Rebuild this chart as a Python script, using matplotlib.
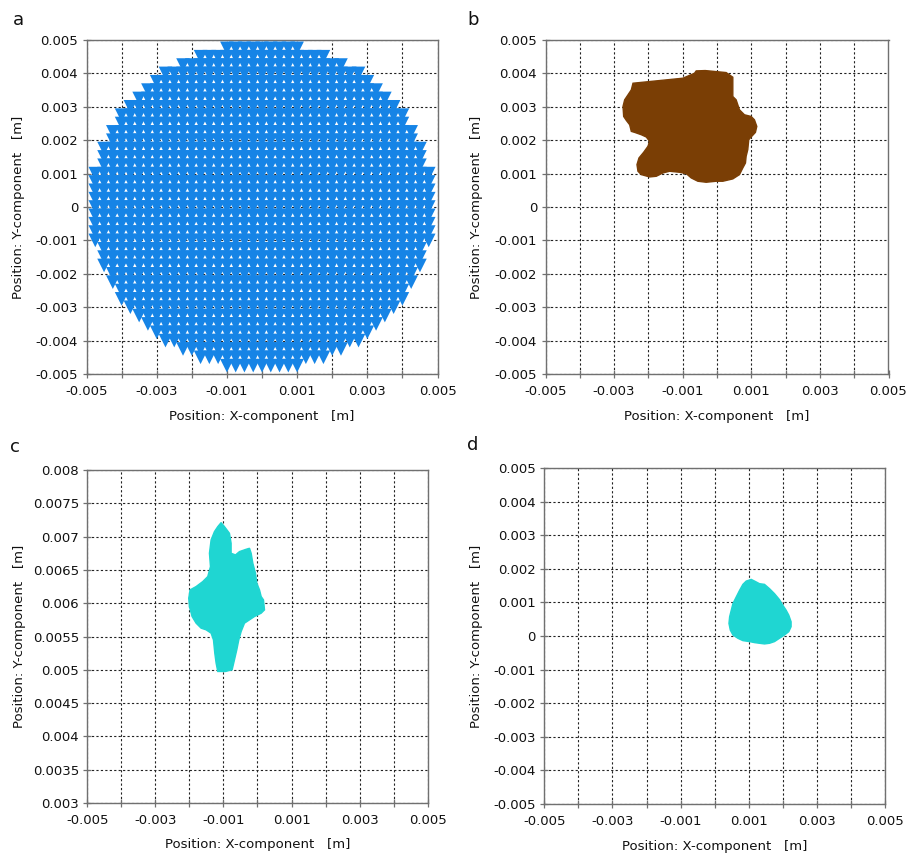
import matplotlib
matplotlib.use("Agg")
import matplotlib.pyplot as plt
import numpy as np

# ---------------- data ----------------
# Panel a: particle injection grid on the circular inlet
inlet_x = [-0.00475, -0.00450, -0.00425, -0.00400, -0.00375, -0.00350, -0.00325,
           -0.00300, -0.00275, -0.00250, -0.00225, -0.00200, -0.00175, -0.00150,
           -0.00125, -0.00100, -0.00075, -0.00050, -0.00025, 0.0, 0.00025, 0.00050,
           0.00075, 0.00100, 0.00125, 0.00150, 0.00175, 0.00200, 0.00225, 0.00250,
           0.00275, 0.00300, 0.00325, 0.00350, 0.00375, 0.00400, 0.00425, 0.00450,
           0.00475]
inlet_y = [-0.00475, -0.00450, -0.00425, -0.00400, -0.00375, -0.00350, -0.00325,
           -0.00300, -0.00275, -0.00250, -0.00225, -0.00200, -0.00175, -0.00150,
           -0.00125, -0.00100, -0.00075, -0.00050, -0.00025, 0.0, 0.00025, 0.00050,
           0.00075, 0.00100, 0.00125, 0.00150, 0.00175, 0.00200, 0.00225, 0.00250,
           0.00275, 0.00300, 0.00325, 0.00350, 0.00375, 0.00400, 0.00425, 0.00450,
           0.00475]
inlet_radius = 0.0049

# Panel b: particle cloud outline
b_x = [-0.002449, -0.001285, -0.000995, -0.000655, -0.000606, -0.000345, 0.000267,
       0.000461, 0.000461, 0.000558, 0.000655, 0.000800, 0.000994, 0.001091,
       0.001160, 0.001120, 0.000994, 0.000926, 0.000897, 0.000849, 0.000830,
       0.000752, 0.000655, 0.000461, 0.000170, -0.000024, -0.000315, -0.000558,
       -0.000752, -0.000897, -0.001091, -0.001382, -0.001576, -0.001770,
       -0.001964, -0.002207, -0.002304, -0.002333, -0.002275, -0.002139,
       -0.002013, -0.001964, -0.002061, -0.002207, -0.002401, -0.002498,
       -0.002546, -0.002643, -0.002721, -0.002740, -0.002692, -0.002595,
       -0.002498]
b_y = [0.003706, 0.003826, 0.003856, 0.004005, 0.004075, 0.004085, 0.004025,
       0.003886, 0.003308, 0.003209, 0.002910, 0.002761, 0.002711, 0.002612,
       0.002413, 0.002234, 0.002095, 0.002015, 0.001716, 0.001517, 0.001318,
       0.001169, 0.000970, 0.000841, 0.000771, 0.000771, 0.000741, 0.000771,
       0.000871, 0.001000, 0.001040, 0.001070, 0.001020, 0.000920, 0.000900,
       0.000970, 0.001070, 0.001269, 0.001468, 0.001637, 0.001816, 0.001965,
       0.002095, 0.002164, 0.002234, 0.002264, 0.002463, 0.002592, 0.002711,
       0.003010, 0.003209, 0.003358, 0.003507]

# Panel c: particle cloud outline
c_x = [-0.001069, -0.000971, -0.000824, -0.000775, -0.000775, -0.000647, -0.000529,
       -0.000333, -0.000235, -0.000186, -0.000137, -0.000059, -0.000020, 0.000059,
       0.000108, 0.000176, 0.000206, 0.000108, -0.000088, -0.000235, -0.000382,
       -0.000480, -0.000549, -0.000608, -0.000676, -0.000745, -0.000941, -0.001167,
       -0.001216, -0.001255, -0.001294, -0.001363, -0.001510, -0.001657, -0.001804,
       -0.001922, -0.002000, -0.002020, -0.001980, -0.001804, -0.001608, -0.001461,
       -0.001382, -0.001412, -0.001363, -0.001265, -0.001167]
c_y = [0.007210, 0.007150, 0.007050, 0.006900, 0.006750, 0.006725, 0.006775,
       0.006810, 0.006825, 0.006750, 0.006600, 0.006450, 0.006300, 0.006200,
       0.006100, 0.006050, 0.005900, 0.005850, 0.005800, 0.005750, 0.005700,
       0.005575, 0.005450, 0.005300, 0.005150, 0.005000, 0.004975, 0.004975,
       0.005100, 0.005250, 0.005450, 0.005550, 0.005600, 0.005625, 0.005700,
       0.005800, 0.005950, 0.006075, 0.006200, 0.006250, 0.006325, 0.006400,
       0.006550, 0.006750, 0.006950, 0.007075, 0.007150]

# Panel d: particle cloud outline
d_x = [0.000927, 0.001073, 0.001171, 0.001317, 0.001463, 0.001610, 0.001756,
       0.001902, 0.002000, 0.002098, 0.002176, 0.002244, 0.002244, 0.002176,
       0.002049, 0.001902, 0.001756, 0.001610, 0.001463, 0.001317, 0.001171,
       0.001024, 0.000829, 0.000683, 0.000537, 0.000459, 0.000420, 0.000439,
       0.000488, 0.000537, 0.000634, 0.000732, 0.000829]
d_y = [0.001635, 0.001685, 0.001635, 0.001557, 0.001537, 0.001409, 0.001261,
       0.001084, 0.000916, 0.000768, 0.000621, 0.000424, 0.000276, 0.000128,
       0.000030, -0.000069, -0.000167, -0.000217, -0.000236, -0.000217, -0.000197,
       -0.000167, -0.000138, -0.000069, 0.000030, 0.000177, 0.000374, 0.000571,
       0.000768, 0.000966, 0.001163, 0.001360, 0.001537]

# Axis ticks
x_ticks = [-0.005, -0.004, -0.003, -0.002, -0.001, 0.0, 0.001, 0.002, 0.003, 0.004, 0.005]
x_labels = ["-0.005", "", "-0.003", "", "-0.001", "", "0.001", "", "0.003", "", "0.005"]
y_ticks = [-0.005, -0.004, -0.003, -0.002, -0.001, 0.0, 0.001, 0.002, 0.003, 0.004, 0.005]
y_labels = ["-0.005", "-0.004", "-0.003", "-0.002", "-0.001", "0", "0.001", "0.002",
            "0.003", "0.004", "0.005"]
yc_ticks = [0.003, 0.0035, 0.004, 0.0045, 0.005, 0.0055, 0.006, 0.0065, 0.007, 0.0075, 0.008]
yc_labels = ["0.003", "0.0035", "0.004", "0.0045", "0.005", "0.0055", "0.006", "0.0065",
             "0.007", "0.0075", "0.008"]

# ---------------- figure ----------------
plt.rcParams["font.family"] = ["DejaVu Sans"]
fig = plt.figure(figsize=(9.09, 8.55), dpi=100)

positions = {
    "a": (86.5 / 909, 1 - 374 / 855, 351 / 909, 334 / 855),
    "b": (545.5 / 909, 1 - 374 / 855, 343 / 909, 334 / 855),
    "c": (87.3 / 909, 1 - 803 / 855, 340.4 / 909, 333 / 855),
    "d": (544.3 / 909, 1 - 804 / 855, 340.7 / 909, 336 / 855),
}
letter_pos = {"a": (18, 20), "b": (473, 20), "c": (15, 447), "d": (473, 445)}

spine_col = "#707070"
BLUE = "#1684E6"
BROWN = "#7A3E05"
CYAN = "#1FD6D2"


def style(ax, yt, yl, ylim, ylab_x):
    ax.set_xlim(-0.005, 0.005)
    ax.set_ylim(*ylim)
    ax.set_xticks(x_ticks)
    ax.set_xticklabels(x_labels)
    ax.set_yticks(yt)
    ax.set_yticklabels(yl)
    ax.set_axisbelow(True)
    ax.grid(True, color="#222222", linestyle=(0, (2.0, 2.0)), linewidth=0.8)
    for s in ax.spines.values():
        s.set_color(spine_col)
        s.set_linewidth(1.0)
    ax.tick_params(direction="inout", length=6, width=0.9, color=spine_col,
                   labelsize=9.5, labelcolor="#111111")
    ax.tick_params(axis="x", pad=5)
    ax.tick_params(axis="y", pad=3)
    ax.set_xlabel("Position: X-component   [m]", fontsize=9.5, color="#111111")
    ax.set_ylabel("Position: Y-component   [m]", fontsize=9.5, color="#111111")
    ax.xaxis.set_label_coords(0.5, -0.126)
    ax.xaxis.label.set_va("center")
    ax.yaxis.set_label_coords(ylab_x, 0.5)
    ax.yaxis.label.set_va("center")


# Panel a
ax = fig.add_axes(positions["a"])
gx, gy = np.meshgrid(np.array(inlet_x), np.array(inlet_y))
inside = gx ** 2 + gy ** 2 <= inlet_radius ** 2
ax.scatter(gx[inside], gy[inside], marker="v", s=9.8 ** 2, color=BLUE,
           edgecolors="none", zorder=3)
style(ax, y_ticks, y_labels, (-0.005, 0.005), -0.195)

# Panel b
ax = fig.add_axes(positions["b"])
ax.fill(b_x, b_y, color=BROWN, lw=1.0, zorder=3)
style(ax, y_ticks, y_labels, (-0.005, 0.005), -0.2)

# Panel c
ax = fig.add_axes(positions["c"])
ax.fill(c_x, c_y, color=CYAN, lw=1.0, zorder=3)
style(ax, yc_ticks, yc_labels, (0.003, 0.008), -0.2)

# Panel d
ax = fig.add_axes(positions["d"])
ax.fill(d_x, d_y, color=CYAN, lw=1.0, zorder=3)
style(ax, y_ticks, y_labels, (-0.005, 0.005), -0.2)

for k, (px, py) in letter_pos.items():
    fig.text(px / 909, 1 - py / 855, k, fontsize=13, ha="center", va="center",
             color="#111111")

fig.savefig("out.png", dpi=100)
